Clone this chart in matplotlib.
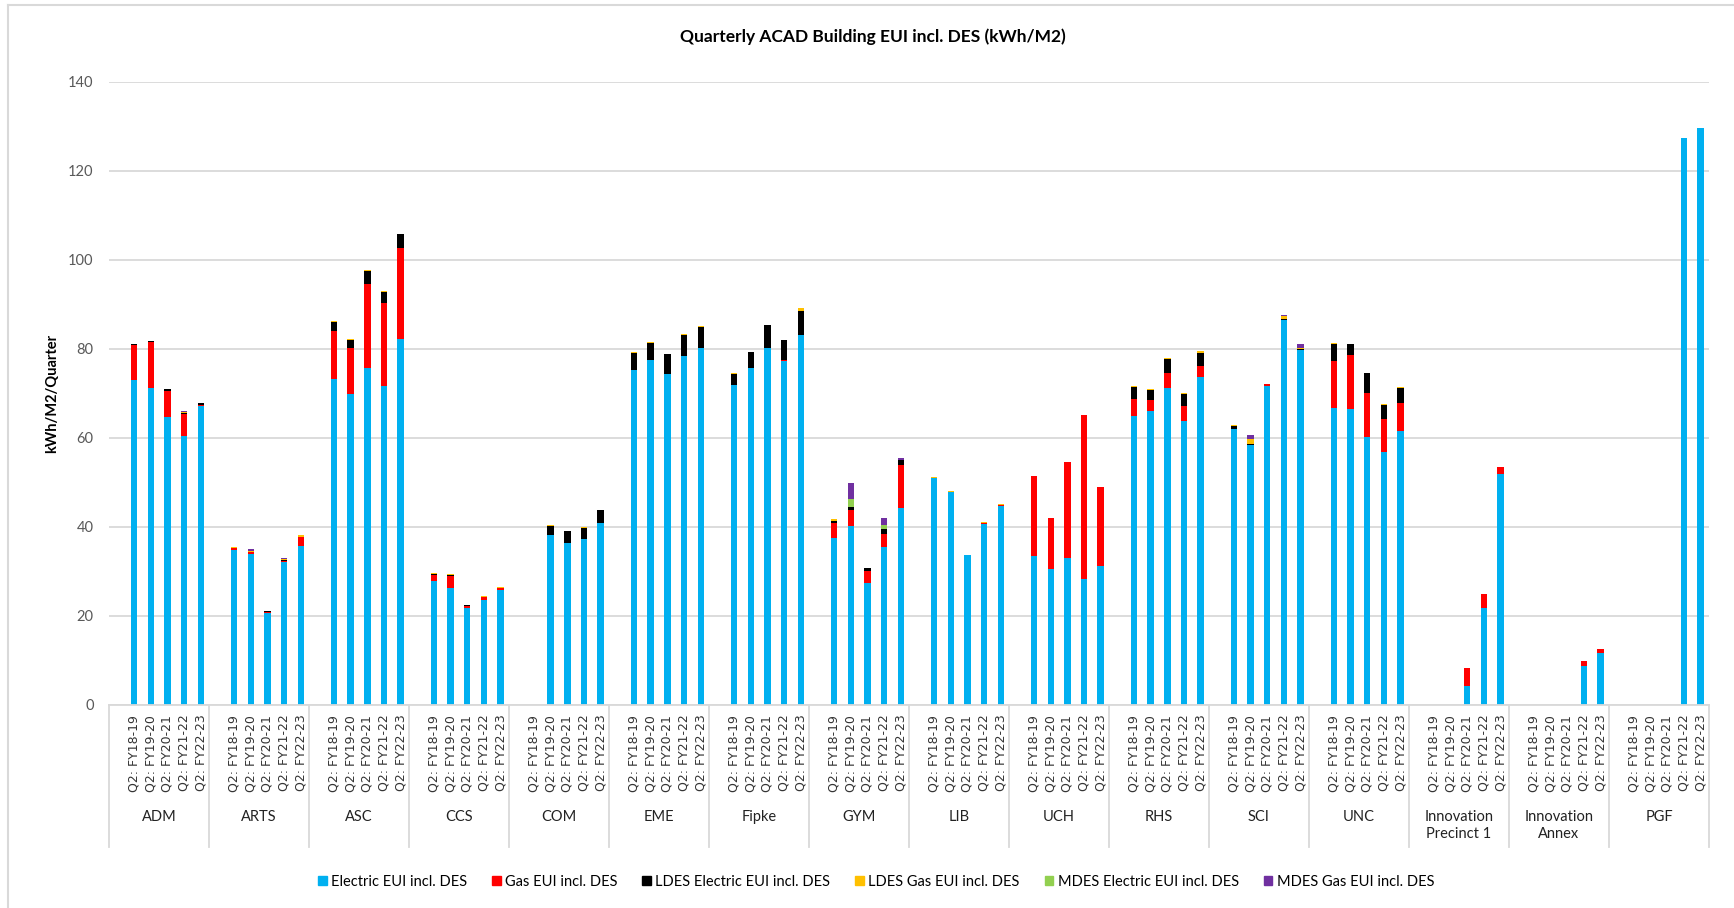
import numpy as np
import matplotlib
matplotlib.use("Agg")
import matplotlib.pyplot as plt
from matplotlib.patches import Patch
from matplotlib.lines import Line2D
from matplotlib.transforms import blended_transform_factory

plt.rcParams['font.family'] = ['Lato', 'DejaVu Sans']

# Data (kWh/M2 per quarter), one row of 5 quarters per building
buildings = ["ADM", "ARTS", "ASC", "CCS", "COM", "EME", "Fipke", "GYM", "LIB", "UCH",
             "RHS", "SCI", "UNC", "Innovation\nPrecinct 1", "Innovation\nAnnex", "PGF"]
quarters = ["Q2: FY18-19", "Q2: FY19-20", "Q2: FY20-21", "Q2: FY21-22", "Q2: FY22-23"]

electric = [
    [73.0, 71.3, 64.8, 60.4, 67.2],
    [34.8, 34.0, 20.7, 32.1, 35.7],
    [73.3, 69.9, 75.7, 71.6, 82.3],
    [27.9, 26.3, 21.8, 23.7, 25.9],
    [0.0, 38.2, 36.3, 37.3, 40.9],
    [75.3, 77.6, 74.4, 78.3, 80.1],
    [71.8, 75.7, 80.2, 77.2, 83.2],
    [37.5, 40.1, 27.3, 35.4, 44.3],
    [50.9, 47.8, 33.8, 40.7, 44.8],
    [33.4, 30.6, 33.0, 28.2, 31.3],
    [64.9, 66.1, 71.2, 63.9, 73.7],
    [62.1, 58.3, 71.6, 86.4, 79.8],
    [66.7, 66.4, 60.1, 56.8, 61.6],
    [0.0, 0.0, 4.3, 21.8, 51.8],
    [0.0, 0.0, 0.0, 8.8, 11.6],
    [0.0, 0.0, 0.0, 127.4, 129.6],
]
gas = [
    [7.8, 10.2, 5.8, 5.0, 0.3],
    [0.4, 0.3, 0.3, 0.3, 2.1],
    [10.8, 10.2, 18.9, 18.6, 20.4],
    [1.2, 2.7, 0.5, 0.5, 0.4],
    [0.0, 0.0, 0.0, 0.0, 0.0],
    [0.0, 0.0, 0.0, 0.0, 0.0],
    [0.0, 0.0, 0.0, 0.2, 0.0],
    [3.3, 3.8, 2.8, 3.1, 9.6],
    [0.1, 0.1, 0.0, 0.2, 0.1],
    [18.1, 11.5, 21.5, 37.0, 17.7],
    [3.8, 2.5, 3.3, 3.2, 2.4],
    [0.0, 0.0, 0.4, 0.0, 0.0],
    [10.6, 12.3, 10.0, 7.5, 6.3],
    [0.0, 0.0, 3.9, 3.2, 1.7],
    [0.0, 0.0, 0.0, 1.0, 0.9],
    [0.0, 0.0, 0.0, 0.0, 0.0],
]
ldes_electric = [
    [0.3, 0.2, 0.4, 0.2, 0.3],
    [0.1, 0.1, 0.1, 0.1, 0.0],
    [2.0, 1.9, 2.9, 2.5, 3.0],
    [0.4, 0.1, 0.2, 0.1, 0.0],
    [0.0, 2.1, 2.8, 2.5, 2.8],
    [3.7, 3.8, 4.4, 4.9, 4.8],
    [2.6, 3.5, 5.1, 4.5, 5.2],
    [0.6, 0.5, 0.6, 1.1, 1.1],
    [0.0, 0.0, 0.0, 0.0, 0.0],
    [0.0, 0.0, 0.0, 0.0, 0.0],
    [2.7, 2.1, 3.2, 2.7, 3.0],
    [0.6, 0.3, 0.0, 0.4, 0.2],
    [3.9, 2.3, 4.5, 3.2, 3.3],
    [0.0, 0.0, 0.0, 0.0, 0.0],
    [0.0, 0.0, 0.0, 0.0, 0.0],
    [0.0, 0.0, 0.0, 0.0, 0.0],
]
ldes_gas = [
    [0.1, 0.1, 0.0, 0.2, 0.0],
    [0.1, 0.3, 0.0, 0.2, 0.3],
    [0.2, 0.3, 0.2, 0.2, 0.2],
    [0.1, 0.4, 0.0, 0.2, 0.1],
    [0.0, 0.1, 0.0, 0.2, 0.1],
    [0.3, 0.2, 0.1, 0.2, 0.2],
    [0.2, 0.2, 0.1, 0.2, 0.7],
    [0.3, 0.0, 0.1, 0.0, 0.0],
    [0.3, 0.1, 0.0, 0.2, 0.2],
    [0.0, 0.0, 0.0, 0.0, 0.0],
    [0.2, 0.2, 0.2, 0.2, 0.4],
    [0.3, 1.2, 0.0, 0.6, 0.3],
    [0.1, 0.2, 0.0, 0.2, 0.2],
    [0.0, 0.0, 0.0, 0.0, 0.0],
    [0.0, 0.0, 0.0, 0.0, 0.0],
    [0.0, 0.0, 0.0, 0.0, 0.0],
]
mdes_electric = [[0.0] * 5 for _ in range(16)]
mdes_electric[7] = [0.0, 1.9, 0.0, 0.8, 0.0]
mdes_gas = [[0.0] * 5 for _ in range(16)]
mdes_gas[0] = [0.0, 0.0, 0.0, 0.3, 0.0]
mdes_gas[1] = [0.0, 0.3, 0.0, 0.3, 0.0]
mdes_gas[7] = [0.0, 3.6, 0.0, 1.6, 0.5]
mdes_gas[11] = [0.0, 0.8, 0.0, 0.3, 0.8]

series = [
    ("Electric EUI incl. DES", electric, "#00B0F0"),
    ("Gas EUI incl. DES", gas, "#FF0000"),
    ("LDES Electric EUI incl. DES", ldes_electric, "#000000"),
    ("LDES Gas EUI incl. DES", ldes_gas, "#FFC000"),
    ("MDES Electric EUI incl. DES", mdes_electric, "#92D050"),
    ("MDES Gas EUI incl. DES", mdes_gas, "#7030A0"),
]

W, H = 1734, 908
fig = plt.figure(figsize=(W / 100, H / 100), dpi=100)
ax = fig.add_axes([109 / W, 1 - 705 / H, 1600 / W, (705 - 81.8) / H])

# each building gets 6 slots: one blank, then the 5 quarters
n = len(buildings)
x = np.array([6 * g + 1 + q for g in range(n) for q in range(5)], dtype=float)
bottom = np.zeros(len(x))
for name, vals, color in series:
    v = np.array(vals).ravel()
    ax.bar(x, v, 0.38, bottom=bottom, color=color, linewidth=0)
    bottom += v

ax.set_xlim(-0.5, 6 * n - 0.5)
ax.set_ylim(0, 140)
ax.set_yticks(range(0, 141, 20))
ax.yaxis.grid(True, color="#D9D9D9", lw=1.3)
ax.set_axisbelow(True)
for s in ["left", "top", "right"]:
    ax.spines[s].set_visible(False)
ax.spines["bottom"].set_color("#D9D9D9")
ax.spines["bottom"].set_linewidth(1.3)

ax.set_xticks(x)
ax.set_xticklabels(quarters * n, rotation=90, fontsize=9, family="DejaVu Sans", color="#333333")
ax.tick_params(axis="x", length=0, pad=7)
ax.tick_params(axis="y", length=0, pad=11, labelsize=10.5, labelcolor="#595959")

trans = blended_transform_factory(ax.transData, fig.transFigure)
for g in range(n + 1):
    xs = 6 * g - 0.5
    fig.add_artist(Line2D([xs, xs], [1 - 705 / H, 1 - 847 / H], transform=trans,
                          color="#D9D9D9", lw=1.3))
for g, b in enumerate(buildings):
    fig.text(6 * g + 2.5, 1 - 810 / H, b, transform=trans, ha="center", va="top",
             fontsize=10.5, color="#222222", linespacing=1.3)

fig.text(873 / W, 1 - 36.5 / H, "Quarterly ACAD Building EUI incl. DES (kWh/M2)",
         ha="center", va="center", fontsize=12.5, weight="bold")
fig.text(52 / W, 1 - 393 / H, "kWh/M2/Quarter", rotation=90, ha="center", va="center",
         fontsize=10.5, weight="bold")

handles = [Patch(color=c) for _, _, c in series]
labels = [nm for nm, _, _ in series]
fig.legend(handles, labels, loc="center", bbox_to_anchor=(876 / W, 1 - 882 / H), ncol=6,
           frameon=False, fontsize=10.5, handlelength=0.6, handleheight=0.6,
           handletextpad=0.3, columnspacing=1.7)

# chart border (left and top edges visible)
fig.add_artist(Line2D([8 / W, 8 / W], [0, 1 - 5 / H], transform=fig.transFigure, color="#D9D9D9", lw=1.5))
fig.add_artist(Line2D([8 / W, 1], [1 - 5 / H, 1 - 5 / H], transform=fig.transFigure, color="#D9D9D9", lw=1.5))

fig.savefig("out.png", dpi=100)
